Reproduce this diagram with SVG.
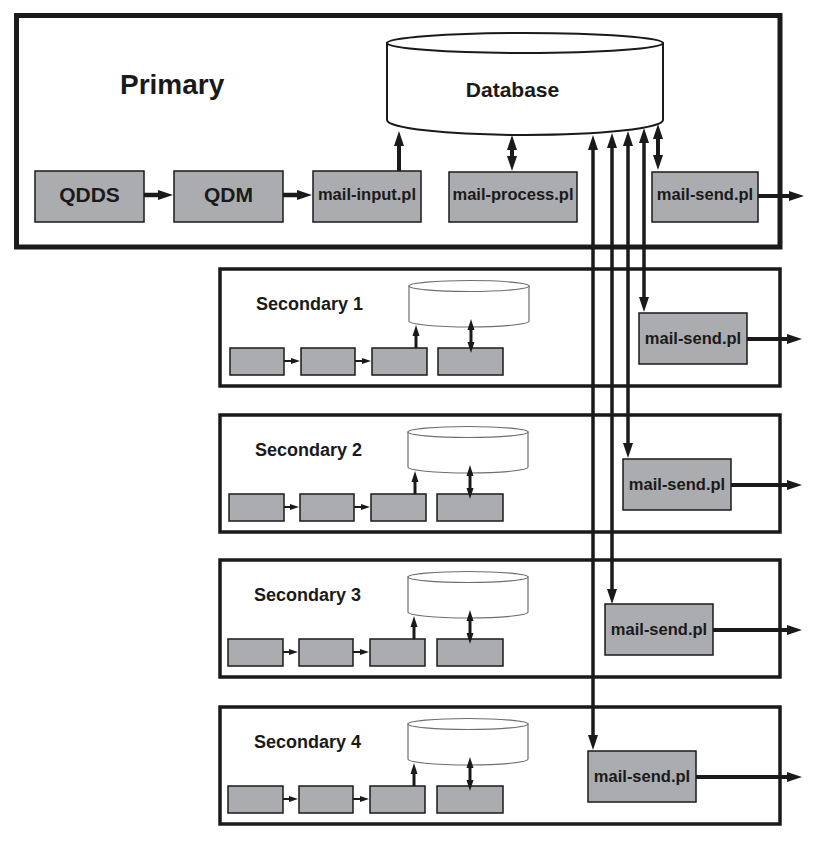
<svg xmlns="http://www.w3.org/2000/svg" width="815" height="841" viewBox="0 0 815 841">
<defs>
<style>
.frame{fill:none;stroke:#1a1a1a}
.box{fill:#abacaf;stroke:#1a1a1a;stroke-width:1.5}
.t{font-family:"Liberation Sans",Arial,sans-serif;font-weight:bold;fill:#1a1a1a}
.c{stroke:#1a1a1a;fill:none}
.db{fill:#fff;stroke:#1a1a1a;stroke-width:2}
.sdb{fill:#fff;stroke:#6e6e6e;stroke-width:1.2}
</style>
<marker id="ah" markerUnits="userSpaceOnUse" markerWidth="16" markerHeight="11" refX="1" refY="5" orient="auto-start-reverse" overflow="visible">
<path d="M0,0 L15,5 L0,10 Z" fill="#1a1a1a"/>
</marker>
<marker id="as" markerUnits="userSpaceOnUse" markerWidth="12" markerHeight="8" refX="1" refY="3.5" orient="auto-start-reverse" overflow="visible">
<path d="M0,0 L11,3.5 L0,7 Z" fill="#1a1a1a"/>
</marker>
<marker id="at" markerUnits="userSpaceOnUse" markerWidth="10" markerHeight="7" refX="1" refY="3" orient="auto-start-reverse" overflow="visible">
<path d="M0,0 L9,3 L0,6 Z" fill="#1a1a1a"/>
</marker>
</defs>

<g id="primary">
<rect class="frame" x="16.5" y="15.5" width="763.5" height="231.5" stroke-width="5"/>
<text class="t" x="120" y="94" font-size="28">Primary</text>
</g>

<g id="database">
<path class="db" d="M387,43 L387,120 A138,15 0 0 0 663,120 L663,43 Z"/>
<ellipse class="db" cx="525" cy="43" rx="138" ry="10"/>
<text class="t" x="512.5" y="97" font-size="21" text-anchor="middle">Database</text>
</g>

<g id="qdds">
<rect class="box" x="35" y="171" width="109" height="51"/>
<text class="t" x="89.5" y="202" font-size="21" text-anchor="middle">QDDS</text>
</g>
<g id="qdm">
<rect class="box" x="174" y="171" width="109" height="51"/>
<text class="t" x="228.5" y="202" font-size="21" text-anchor="middle">QDM</text>
</g>
<g id="mail-input">
<rect class="box" x="313" y="171" width="108" height="51"/>
<text class="t" x="367" y="200" font-size="16.5" text-anchor="middle">mail-input.pl</text>
</g>
<g id="mail-process">
<rect class="box" x="449" y="172" width="128" height="50"/>
<text class="t" x="513" y="200" font-size="16.5" text-anchor="middle">mail-process.pl</text>
</g>
<g id="mail-send-primary">
<rect class="box" x="652" y="172" width="106" height="50"/>
<text class="t" x="705" y="200" font-size="16.5" text-anchor="middle">mail-send.pl</text>
</g>

<g id="secondary1" transform="translate(0,269)">
<rect class="frame" x="220" y="0" width="560" height="117" stroke-width="3.5"/>
<text class="t" x="256" y="41" font-size="18">Secondary 1</text>
<path class="sdb" d="M409,17 L409,52 A60,6 0 0 0 529,52 L529,17 Z"/>
<ellipse class="sdb" cx="469" cy="17" rx="60" ry="5.5"/>
<rect class="box" x="230" y="79" width="54" height="27"/>
<rect class="box" x="301" y="79" width="54" height="27"/>
<rect class="box" x="372" y="79" width="55" height="27"/>
<rect class="box" x="438" y="79" width="65" height="27"/>
<rect class="box" x="639" y="44" width="108" height="51"/>
<text class="t" x="693" y="75" font-size="16.5" text-anchor="middle">mail-send.pl</text>
</g>
<g id="secondary2" transform="translate(0,415)">
<rect class="frame" x="220" y="0" width="560" height="117" stroke-width="3.5"/>
<text class="t" x="255" y="41" font-size="18">Secondary 2</text>
<path class="sdb" d="M408,17 L408,52 A60,6 0 0 0 528,52 L528,17 Z"/>
<ellipse class="sdb" cx="468" cy="17" rx="60" ry="5.5"/>
<rect class="box" x="229" y="79" width="55" height="27"/>
<rect class="box" x="300" y="79" width="54" height="27"/>
<rect class="box" x="371" y="79" width="55" height="27"/>
<rect class="box" x="437" y="79" width="66" height="27"/>
<rect class="box" x="623" y="44" width="108" height="51"/>
<text class="t" x="677" y="75" font-size="16.5" text-anchor="middle">mail-send.pl</text>
</g>
<g id="secondary3" transform="translate(0,560)">
<rect class="frame" x="220" y="0" width="560" height="117" stroke-width="3.5"/>
<text class="t" x="254" y="41" font-size="18">Secondary 3</text>
<path class="sdb" d="M408,17 L408,52 A60,6 0 0 0 528,52 L528,17 Z"/>
<ellipse class="sdb" cx="468" cy="17" rx="60" ry="5.5"/>
<rect class="box" x="228" y="79" width="55" height="27"/>
<rect class="box" x="299" y="79" width="54" height="27"/>
<rect class="box" x="370" y="79" width="55" height="27"/>
<rect class="box" x="437" y="79" width="66" height="27"/>
<rect class="box" x="605" y="44" width="108" height="51"/>
<text class="t" x="659" y="75" font-size="16.5" text-anchor="middle">mail-send.pl</text>
</g>
<g id="secondary4" transform="translate(0,707)">
<rect class="frame" x="220" y="0" width="560" height="117" stroke-width="3.5"/>
<text class="t" x="254" y="41" font-size="18">Secondary 4</text>
<path class="sdb" d="M408,17 L408,52 A60,6 0 0 0 528,52 L528,17 Z"/>
<ellipse class="sdb" cx="468" cy="17" rx="60" ry="5.5"/>
<rect class="box" x="228" y="79" width="55" height="27"/>
<rect class="box" x="299" y="79" width="54" height="27"/>
<rect class="box" x="370" y="79" width="55" height="27"/>
<rect class="box" x="437" y="79" width="66" height="27"/>
<rect class="box" x="588" y="44" width="108" height="51"/>
<text class="t" x="642" y="75" font-size="16.5" text-anchor="middle">mail-send.pl</text>
</g>

<g id="connectors">
<!-- primary -->
<line class="c" x1="144" y1="195" x2="159" y2="195" stroke-width="4.5" marker-end="url(#ah)"/>
<line class="c" x1="283" y1="195" x2="298" y2="195" stroke-width="4.5" marker-end="url(#ah)"/>
<line class="c" x1="399" y1="171" x2="399" y2="145" stroke-width="4" marker-end="url(#ah)"/>
<line class="c" x1="512" y1="149" x2="512" y2="157" stroke-width="4" marker-start="url(#ah)" marker-end="url(#ah)"/>
<line class="c" x1="658" y1="138" x2="658" y2="156" stroke-width="4" marker-start="url(#ah)" marker-end="url(#ah)"/>
<line class="c" x1="758" y1="196" x2="790" y2="196" stroke-width="4" marker-end="url(#ah)"/>
<!-- primary database to secondary mail-send -->
<line class="c" x1="593" y1="149" x2="593" y2="736" stroke-width="3.5" marker-start="url(#ah)" marker-end="url(#ah)"/>
<line class="c" x1="612" y1="147" x2="612" y2="590" stroke-width="3.5" marker-start="url(#ah)" marker-end="url(#ah)"/>
<line class="c" x1="628" y1="145" x2="628" y2="444" stroke-width="3.5" marker-start="url(#ah)" marker-end="url(#ah)"/>
<line class="c" x1="644" y1="142" x2="644" y2="298" stroke-width="3.5" marker-start="url(#ah)" marker-end="url(#ah)"/>
<!-- secondary outputs -->
<line class="c" x1="747" y1="339" x2="788" y2="339" stroke-width="4" marker-end="url(#ah)"/>
<line class="c" x1="731" y1="485" x2="788" y2="485" stroke-width="4" marker-end="url(#ah)"/>
<line class="c" x1="713" y1="630" x2="788" y2="630" stroke-width="4" marker-end="url(#ah)"/>
<line class="c" x1="696" y1="777" x2="788" y2="777" stroke-width="4" marker-end="url(#ah)"/>
<!-- secondary internal -->
<line class="c" x1="284" y1="361" x2="292" y2="361" stroke-width="2" marker-end="url(#at)"/>
<line class="c" x1="355" y1="361" x2="363" y2="361" stroke-width="2" marker-end="url(#at)"/>
<line class="c" x1="416" y1="348" x2="416" y2="335" stroke-width="3" marker-end="url(#as)"/>
<line class="c" x1="471" y1="329" x2="471" y2="343" stroke-width="3" marker-start="url(#as)" marker-end="url(#as)"/>

<line class="c" x1="284" y1="507" x2="291" y2="507" stroke-width="2" marker-end="url(#at)"/>
<line class="c" x1="354" y1="507" x2="362" y2="507" stroke-width="2" marker-end="url(#at)"/>
<line class="c" x1="415" y1="494" x2="415" y2="481" stroke-width="3" marker-end="url(#as)"/>
<line class="c" x1="470" y1="475" x2="470" y2="489" stroke-width="3" marker-start="url(#as)" marker-end="url(#as)"/>

<line class="c" x1="283" y1="652" x2="290" y2="652" stroke-width="2" marker-end="url(#at)"/>
<line class="c" x1="353" y1="652" x2="361" y2="652" stroke-width="2" marker-end="url(#at)"/>
<line class="c" x1="414" y1="639" x2="414" y2="626" stroke-width="3" marker-end="url(#as)"/>
<line class="c" x1="470" y1="620" x2="470" y2="634" stroke-width="3" marker-start="url(#as)" marker-end="url(#as)"/>

<line class="c" x1="283" y1="799" x2="290" y2="799" stroke-width="2" marker-end="url(#at)"/>
<line class="c" x1="353" y1="799" x2="361" y2="799" stroke-width="2" marker-end="url(#at)"/>
<line class="c" x1="414" y1="786" x2="414" y2="773" stroke-width="3" marker-end="url(#as)"/>
<line class="c" x1="470" y1="767" x2="470" y2="781" stroke-width="3" marker-start="url(#as)" marker-end="url(#as)"/>
</g>
</svg>
